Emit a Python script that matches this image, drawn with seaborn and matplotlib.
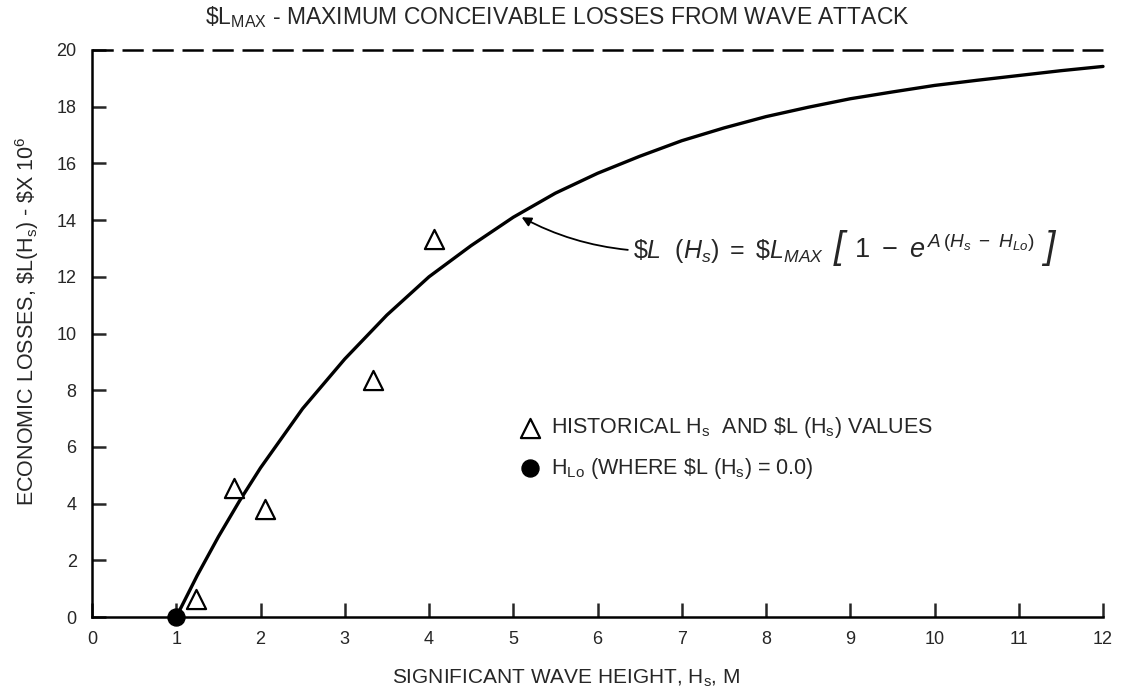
import matplotlib
matplotlib.use("Agg")
import matplotlib.pyplot as plt
from matplotlib.offsetbox import TextArea, HPacker, AnnotationBbox
import seaborn as sns
import pandas as pd

# ---- data ----
curve_hs = [1.0, 1.25, 1.5, 1.75, 2.0, 2.5, 3.0, 3.5, 4.0, 4.5, 5.0, 5.5, 6.0,
            6.5, 7.0, 7.5, 8.0, 8.5, 9.0, 9.5, 10.0, 10.5, 11.0, 11.5, 12.0]
curve_loss = [0.0, 1.47, 2.83, 4.09, 5.26, 7.35, 9.1, 10.65, 12.0, 13.1, 14.1,
              14.95, 15.65, 16.25, 16.8, 17.25, 17.65, 17.98, 18.28, 18.52,
              18.75, 18.93, 19.1, 19.27, 19.42]
hist_hs = [1.24, 1.68, 2.05, 3.33, 4.06]
hist_loss = [0.65, 4.55, 3.8, 8.35, 13.35]
hlo_hs = [1.0]
hlo_loss = [0.0]
loss_max = 20
x_ticks = list(range(0, 13))
y_ticks = list(range(0, 21, 2))

sns.set_style("ticks")
plt.rcParams["font.family"] = ["Liberation Sans", "DejaVu Sans"]
plt.rcParams["mathtext.fontset"] = "custom"
plt.rcParams["mathtext.rm"] = "Liberation Sans"
plt.rcParams["mathtext.it"] = "Liberation Sans:italic"
plt.rcParams["mathtext.bf"] = "Liberation Sans:bold"

fig = plt.figure(figsize=(11.21, 6.88), dpi=100)
ax = fig.add_axes([92 / 1121, 71 / 688, 1011 / 1121, 567 / 688])

curve_df = pd.DataFrame({"hs": curve_hs, "loss": curve_loss})
sns.lineplot(data=curve_df, x="hs", y="loss", ax=ax, color="black",
             linewidth=2.4, zorder=3, clip_on=False)

ax.axhline(loss_max, color="black", linewidth=1.8, dashes=(8.5, 3.5),
           clip_on=False, zorder=2)

hist_df = pd.DataFrame({"hs": hist_hs, "loss": hist_loss})
sns.scatterplot(data=hist_df, x="hs", y="loss", ax=ax, marker="^", s=190,
                facecolor="white", edgecolor="black", linewidth=1.6, zorder=4,
                label=r"HISTORICAL H$_{\mathrm{s}}$  AND \$L (H$_{\mathrm{s}}$) VALUES")
hlo_df = pd.DataFrame({"hs": hlo_hs, "loss": hlo_loss})
sns.scatterplot(data=hlo_df, x="hs", y="loss", ax=ax, marker="o", s=150,
                color="black", edgecolor="black", zorder=5, clip_on=False,
                label=r"H$_{\mathrm{Lo}}$ (WHERE \$L (H$_{\mathrm{s}}$) = 0.0)")

ax.set_xlim(0, 12)
ax.set_ylim(0, 20)
ax.set_xticks(x_ticks)
ax.set_yticks(y_ticks)
ax.tick_params(axis="both", direction="in", length=10, width=1.8,
               labelsize=13)
ax.tick_params(axis="x", pad=10)
ax.tick_params(axis="y", pad=11)
for s in ["top", "right"]:
    ax.spines[s].set_visible(False)
for s in ["left", "bottom"]:
    ax.spines[s].set_linewidth(1.8)
    ax.spines[s].set_color("black")

ax.set_xlabel(r"SIGNIFICANT WAVE HEIGHT, H$_{\mathrm{s}}$, M", fontsize=15,
              labelpad=14, x=0.469)
ax.set_ylabel(r"ECONOMIC LOSSES, \$L(H$_{\mathrm{s}}$) - \$X 10$^{6}$",
              fontsize=15.5, labelpad=11, y=0.522)
ax.set_title(r"\$L$_{\mathrm{MAX}}$ - MAXIMUM CONCEIVABLE LOSSES FROM WAVE ATTACK",
             fontsize=16.5, pad=19, x=0.46)

# formula annotation with tall brackets
fs = 18
parts = [
    TextArea(r"$\$L\ \ (H_s)\ =\ \$L_{MAX}$", textprops=dict(fontsize=fs)),
    TextArea("[", textprops=dict(fontsize=27, style="italic")),
    TextArea(r"$1\ -\ e^{\,A\,(H_s\ -\ H_{Lo})}$", textprops=dict(fontsize=19.5)),
    TextArea("]", textprops=dict(fontsize=27, style="italic")),
]
pack = HPacker(children=parts, align="baseline", pad=0, sep=7)
ab = AnnotationBbox(pack, xy=(6.42, 13.0), xycoords="data",
                    box_alignment=(0, 0.5), frameon=False, pad=0)
ax.add_artist(ab)
ax.annotate("", xy=(5.1, 14.1), xytext=(6.36, 12.95),
            arrowprops=dict(arrowstyle="-|>", color="black", lw=1.3,
                            shrinkA=0, shrinkB=0, mutation_scale=14,
                            connectionstyle="arc3,rad=-0.1"))

leg = ax.legend(loc="center left", bbox_to_anchor=(0.41, 0.298), frameon=False,
                fontsize=15.5, handletextpad=0.35, labelspacing=0.7,
                borderpad=0, handlelength=1.2)

fig.savefig("out.png", dpi=100, facecolor="white")
